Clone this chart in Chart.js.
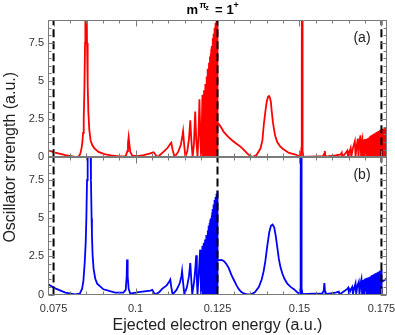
<!DOCTYPE html>
<html lang="en">
<head>
    <meta charset="UTF-8">
    <title>Oscillator strength, m = 1+</title>
    <script src="https://cdn.jsdelivr.net/npm/chart.js"></script>
    <style>
        body {
            margin: 0;
            background-color: #fff;
        }
        canvas {
            display: block;
        }
    </style>
</head>
<body>
    <canvas id="chart" width="395" height="335"></canvas>

    <script>
        // energy (a.u.), oscillator strength (a.u.)
        const panelA = [
            [0.0733, 0.46], [0.0755, 0.30], [0.0786, 0.14], [0.0816, 0.03], [0.0826, 0.03], [0.0831, 0.2],
            [0.0835, 0.55], [0.0838, 1.0], [0.0840, 1.6], [0.0842, 2.6], [0.0844, 4.4], [0.0846, 7.5],
            [0.0847, 10], [0.0849, 14], [0.0851, 10], [0.0852, 7.5], [0.0854, 4.8], [0.0856, 3.0],
            [0.0859, 1.8], [0.0863, 1.1], [0.0868, 0.8], [0.0874, 0.6], [0.0887, 0.35], [0.0905, 0.2],
            [0.0925, 0.12], [0.0950, 0.06], [0.0970, 0.08], [0.0975, 0.4], [0.0977, 0.95], [0.0979, 1.33],
            [0.0981, 0.9], [0.0984, 0.35], [0.0990, 0.1], [0.1005, 0.08], [0.1025, 0.14], [0.1045, 0.25],
            [0.1055, 0.33], [0.1060, 0.2], [0.1065, 0.02], [0.1072, 0.1], [0.1085, 0.35], [0.1098, 0.62],
            [0.1106, 0.88], [0.1109, 0.95], [0.1113, 0.5], [0.1119, 0.02], [0.1130, 0.35], [0.1138, 0.8],
            [0.1143, 1.4], [0.1145, 1.7], [0.1148, 0.9], [0.1152, 0.02], [0.1158, 0.4], [0.1163, 1.2],
            [0.1167, 2.43], [0.1170, 1.2], [0.1174, 0.02], [0.1178, 0.8], [0.1182, 3.0], [0.1185, 1.2],
            [0.1189, 0.02], [0.1192, 1.5], [0.1195, 3.8], [0.1198, 1.0], [0.1200, 0.02], [0.1202, 2.0],
            [0.1204, 4.1], [0.1206, 0.5], [0.1207, 0.02], [0.1209, 4.4], [0.1210, 0.3], [0.1211, 0.02],
            [0.1213, 4.8], [0.1214, 0.3], [0.1215, 0.02], [0.1217, 5.3], [0.1218, 0.3], [0.1219, 0.02],
            [0.1221, 5.8], [0.1222, 0.02], [0.1224, 6.2], [0.1225, 0.02], [0.1227, 6.6], [0.1228, 0.02],
            [0.1229, 6.8], [0.1230, 0.02], [0.1231, 7.1], [0.1232, 0.02], [0.1233, 7.3], [0.1234, 0.02],
            [0.1235, 7.6], [0.12355, 0.02], [0.1236, 7.8], [0.12365, 0.02], [0.1237, 7.9], [0.12375, 0.02],
            [0.1238, 8.0], [0.12385, 0.02], [0.1239, 8.1], [0.12395, 0.02], [0.1240, 8.3], [0.12405, 0.02],
            [0.1241, 8.4], [0.12415, 0.02], [0.1242, 8.5], [0.12425, 0.02], [0.1243, 8.6], [0.12435, 0.02],
            [0.1244, 8.7], [0.12445, 0.02], [0.1245, 8.8], [0.12455, 0.02], [0.1246, 8.9], [0.12465, 0.02],
            [0.1247, 9.1], [0.12475, 0.02], [0.1248, 9.3], [0.12485, 0.02], [0.1249, 9.6], [0.12495, 0.02],
            [0.1250, 10], [0.1251, 2.3], [0.1260, 2.0], [0.1269, 1.66], [0.1282, 1.35], [0.1295, 1.1],
            [0.1308, 0.88], [0.1321, 0.68], [0.1332, 0.45], [0.1341, 0.24], [0.1350, 0.08], [0.1357, 0.02],
            [0.1369, 0.15], [0.1381, 0.57], [0.1387, 1.1], [0.1391, 2.1], [0.1396, 3.0], [0.1400, 3.63],
            [0.1404, 3.95], [0.1407, 4.02], [0.1410, 3.9], [0.1413, 3.6], [0.1415, 3.1], [0.1419, 2.3],
            [0.1422, 1.88], [0.1426, 1.4], [0.1432, 1.0], [0.1440, 0.75], [0.1448, 0.57], [0.1468, 0.28],
            [0.1488, 0.18], [0.1500, 0.07], [0.1504, 0.0], [0.1506, 0.6], [0.1507, 5], [0.1508, 20],
            [0.1509, 5], [0.1510, 0.4], [0.1512, 0.02], [0.1530, 0.04], [0.1555, 0.06], [0.1572, 0.08],
            [0.1575, 0.2], [0.1577, 0.41], [0.1579, 0.15], [0.1581, 0.02], [0.1590, 0.08], [0.1610, 0.12],
            [0.1626, 0.18], [0.1629, 0.3], [0.1631, 0.02], [0.1638, 0.2], [0.1646, 0.43], [0.1648, 0.02],
            [0.1653, 0.4], [0.1656, 0.6], [0.1658, 0.02], [0.1663, 0.6], [0.1669, 1.05], [0.1671, 0.02],
            [0.1675, 0.8], [0.1678, 1.22], [0.1680, 0.02], [0.1683, 1.0], [0.1686, 1.44], [0.1688, 0.02],
            [0.1690, 0.9], [0.1692, 1.15], [0.1694, 0.02], [0.1696, 1.15], [0.1698, 0.02], [0.1700, 1.2],
            [0.1702, 0.02], [0.1704, 1.2], [0.1706, 0.02], [0.1708, 1.25], [0.1710, 0.02], [0.1712, 1.3],
            [0.1714, 0.02], [0.1716, 1.4], [0.1717, 0.02], [0.1719, 1.42], [0.1720, 0.02], [0.1722, 1.47],
            [0.1723, 0.02], [0.1725, 1.5], [0.1726, 0.02], [0.1728, 1.55], [0.1729, 0.02], [0.1731, 1.58],
            [0.1732, 0.02], [0.1734, 1.62], [0.1735, 0.02], [0.1736, 1.65], [0.1737, 0.02], [0.1738, 1.68],
            [0.1739, 0.02], [0.1740, 1.7], [0.1741, 0.02], [0.1742, 1.72], [0.1743, 0.02], [0.1744, 1.75],
            [0.1745, 0.02], [0.1746, 1.78], [0.1747, 0.02], [0.1748, 1.8], [0.1749, 0.02], [0.1750, 1.85],
            [0.1751, 0.02], [0.1752, 1.86], [0.1753, 0.02], [0.1754, 1.87], [0.1755, 0.02], [0.1756, 1.88],
            [0.1757, 0.02], [0.1758, 1.89], [0.1759, 0.02], [0.1760, 1.9], [0.1761, 0.02], [0.1762, 1.91],
            [0.1763, 0.02], [0.1764, 1.92], [0.1765, 0.02], [0.1766, 1.93], [0.1767, 0.02]
        ];

        const panelB = [
            [0.0733, 0.67], [0.0755, 0.40], [0.0786, 0.13], [0.0816, 0.01], [0.0830, 0.05], [0.0837, 0.38],
            [0.0841, 0.9], [0.0845, 2.1], [0.0848, 3.4], [0.0850, 5.0], [0.0852, 7.5], [0.0854, 10.5],
            [0.0858, 15], [0.0862, 10.5], [0.0864, 7.5], [0.0866, 5.0], [0.0867, 3.9], [0.0869, 2.6],
            [0.0872, 1.7], [0.0877, 1.05], [0.0883, 0.71], [0.0902, 0.34], [0.0938, 0.12], [0.0963, 0.12],
            [0.0970, 0.3], [0.0973, 1.2], [0.0974, 2.3], [0.0976, 1.2], [0.0979, 0.37], [0.0984, 0.05],
            [0.1009, 0.16], [0.1045, 0.26], [0.1051, 0.3], [0.1056, 0.12], [0.1059, 0.0], [0.1072, 0.15],
            [0.1081, 0.37], [0.1095, 0.6], [0.1103, 0.85], [0.1106, 0.97], [0.1109, 0.5], [0.1113, 0.0],
            [0.1125, 0.3], [0.1135, 0.75], [0.1140, 1.2], [0.1142, 1.54], [0.1145, 0.8], [0.1149, 0.0],
            [0.1157, 0.5], [0.1163, 1.2], [0.1167, 2.07], [0.1170, 1.0], [0.1173, 0.0], [0.1179, 0.9],
            [0.1183, 1.9], [0.1185, 2.57], [0.1187, 1.0], [0.1189, 0.0], [0.1193, 1.4], [0.1197, 2.94],
            [0.1199, 0.8], [0.1200, 0.0], [0.1202, 1.8], [0.1204, 3.2], [0.1206, 0.02], [0.1208, 3.4],
            [0.1209, 0.3], [0.1210, 0.02], [0.1212, 3.6], [0.1213, 0.3], [0.1214, 0.02], [0.1216, 3.9],
            [0.1217, 0.3], [0.1218, 0.02], [0.1220, 4.2], [0.1221, 0.02], [0.1223, 4.5], [0.1224, 0.02],
            [0.1226, 4.7], [0.1227, 0.02], [0.1228, 4.9], [0.1229, 0.02], [0.1230, 5.0], [0.1231, 0.02],
            [0.1232, 5.2], [0.1233, 0.02], [0.1234, 5.4], [0.12345, 0.02], [0.1235, 5.5], [0.12355, 0.02],
            [0.1236, 5.6], [0.12365, 0.02], [0.1237, 5.7], [0.12375, 0.02], [0.1238, 5.8], [0.12385, 0.02],
            [0.1239, 5.9], [0.12395, 0.02], [0.1240, 6.0], [0.12405, 0.02], [0.1241, 6.1], [0.12415, 0.02],
            [0.1242, 6.2], [0.12425, 0.02], [0.1243, 6.25], [0.12435, 0.02], [0.1244, 6.3], [0.12445, 0.02],
            [0.1245, 6.4], [0.12455, 0.02], [0.1246, 6.5], [0.12465, 0.02], [0.1247, 6.55], [0.12475, 0.02],
            [0.1248, 6.6], [0.12485, 0.02], [0.1249, 6.7], [0.12495, 0.02], [0.1250, 6.8], [0.12505, 0.02],
            [0.1251, 2.24], [0.1262, 2.27], [0.1269, 2.2], [0.1277, 2.0], [0.1284, 1.75], [0.1292, 1.3],
            [0.1300, 0.95], [0.1308, 0.6], [0.1315, 0.35], [0.1322, 0.18], [0.1330, 0.07], [0.1340, 0.01],
            [0.1351, 0.0], [0.1364, 0.15], [0.1376, 0.49], [0.1385, 1.0], [0.1391, 1.55], [0.1396, 2.2],
            [0.1402, 3.2], [0.1408, 4.1], [0.1413, 4.5], [0.1418, 4.58], [0.1423, 4.4], [0.1428, 3.8],
            [0.1433, 3.0], [0.1437, 2.35], [0.1442, 1.8], [0.1448, 1.36], [0.1455, 1.0], [0.1463, 0.71],
            [0.1473, 0.5], [0.1483, 0.35], [0.1493, 0.15], [0.1499, 0.07], [0.1502, 0.02], [0.1503, 0.5],
            [0.1504, 5], [0.1505, 20], [0.1506, 5], [0.1507, 0.4], [0.1509, 0.02], [0.1540, 0.05],
            [0.1570, 0.08], [0.1574, 0.25], [0.1576, 0.75], [0.1578, 0.2], [0.1580, 0.02], [0.1595, 0.08],
            [0.1610, 0.13], [0.1620, 0.19], [0.1622, 0.0], [0.1635, 0.2], [0.1645, 0.35], [0.1649, 0.45],
            [0.1651, 0.02], [0.1657, 0.35], [0.1661, 0.5], [0.1663, 0.02], [0.1668, 0.5], [0.1671, 0.73],
            [0.1673, 0.02], [0.1677, 0.6], [0.1681, 0.84], [0.1683, 0.02], [0.1686, 0.7], [0.1689, 1.0],
            [0.1691, 0.02], [0.1694, 0.95], [0.1696, 0.02], [0.1699, 1.03], [0.1701, 0.02], [0.1703, 1.06],
            [0.1705, 0.02], [0.1707, 1.1], [0.1709, 0.02], [0.1711, 1.13], [0.1713, 0.02], [0.1715, 1.17],
            [0.1717, 0.02], [0.1719, 1.22], [0.1720, 0.02], [0.1722, 1.28], [0.1723, 0.02], [0.1725, 1.3],
            [0.1726, 0.02], [0.1728, 1.34], [0.1729, 0.02], [0.1731, 1.37], [0.1732, 0.02], [0.1734, 1.4],
            [0.1735, 0.02], [0.1736, 1.42], [0.1737, 0.02], [0.1738, 1.45], [0.1739, 0.02], [0.1740, 1.47],
            [0.1741, 0.02], [0.1742, 1.5], [0.1743, 0.02], [0.1744, 1.52], [0.1745, 0.02], [0.1746, 1.55],
            [0.1747, 0.02], [0.1748, 1.58], [0.1749, 0.02], [0.1750, 1.6], [0.17505, 0.02], [0.1751, 0.84],
            [0.1759, 0.93], [0.1767, 1.08]
        ];

        const thresholds = [0.075, 0.125, 0.175];
        const xTicks = [0.075, 0.1, 0.125, 0.15, 0.175];
        const xTickLabels = ['0.075', '0.1', '0.125', '0.15', '0.175'];
        const yTicks = [0, 2.5, 5, 7.5];
        const yTickLabels = ['0', '2.5', '5', '7.5'];
        const panelLabels = ['(a)', '(b)'];
        const panelColors = ['#ff0000', '#0000ff'];

        const xRange = [0.0733, 0.1767];
        const yRange = [0, 9];
        const fontFamily = 'Arial, "Liberation Sans", Helvetica, sans-serif';

        // top panel is yA, bottom panel is yB
        const panelIds = ['yA', 'yB'];

        const toPoints = rows => rows.map(r => ({x: r[0], y: r[1]}));

        const datasets = [];
        panelIds.forEach(id => {
            thresholds.forEach(t => {
                datasets.push({
                    data: [{x: t, y: yRange[0]}, {x: t, y: yRange[1]}],
                    yAxisID: id,
                    borderColor: '#000',
                    borderWidth: 2,
                    borderDash: [8, 4],
                    pointRadius: 0
                });
            });
        });
        datasets.push({
            data: toPoints(panelA),
            yAxisID: 'yA',
            borderColor: panelColors[0],
            borderWidth: 1.8,
            pointRadius: 0
        });
        datasets.push({
            data: toPoints(panelB),
            yAxisID: 'yB',
            borderColor: panelColors[1],
            borderWidth: 1.8,
            pointRadius: 0
        });

        function yScale() {
            return {
                type: 'linear',
                position: 'left',
                stack: 'panels',
                stackWeight: 1,
                min: yRange[0],
                max: yRange[1],
                grid: {display: false, drawTicks: false},
                border: {display: false},
                afterBuildTicks: s => { s.ticks = yTicks.map(v => ({value: v})); },
                afterFit: s => {
                    s.width = 48;
                    s.paddingTop = 0;
                    s.paddingBottom = 0;
                },
                ticks: {
                    padding: 4,
                    color: '#333',
                    font: {family: fontFamily, size: 11},
                    callback: v => yTickLabels[yTicks.indexOf(v)]
                }
            };
        }

        const framePlugin = {
            id: 'frame',
            beforeDatasetDraw(chart, args) {
                const ys = chart.scales[args.meta.yAxisID];
                const a = chart.chartArea;
                const ctx = chart.ctx;
                ctx.save();
                ctx.beginPath();
                ctx.rect(a.left, ys.top, a.right - a.left, ys.bottom - ys.top);
                ctx.clip();
            },
            afterDatasetDraw(chart) {
                chart.ctx.restore();
            },
            afterDraw(chart) {
                const ctx = chart.ctx;
                const a = chart.chartArea;
                const xs = chart.scales.x;
                ctx.save();
                ctx.strokeStyle = '#7a7a7a';
                ctx.lineWidth = 1;

                panelIds.forEach((id, i) => {
                    const ys = chart.scales[id];
                    const L = Math.round(a.left) + 0.5, R = Math.round(a.right) - 0.5;
                    const T = Math.round(ys.top) + 0.5, B = Math.round(ys.bottom) - 0.5;
                    ctx.strokeRect(L, T, R - L, B - T);

                    ctx.beginPath();
                    for (let k = 0; k <= 18; k++) {
                        const v = k * 0.5;
                        const len = yTicks.includes(v) ? 6 : 3;
                        const py = Math.round(ys.getPixelForValue(v)) + 0.5;
                        ctx.moveTo(L, py); ctx.lineTo(L + len, py);
                        ctx.moveTo(R, py); ctx.lineTo(R - len, py);
                    }
                    for (let k = 75; k <= 175; k += 5) {
                        const v = k / 1000;
                        const len = xTicks.includes(v) ? 6 : 3;
                        const px = Math.round(xs.getPixelForValue(v)) + 0.5;
                        ctx.moveTo(px, T); ctx.lineTo(px, T + len);
                        ctx.moveTo(px, B); ctx.lineTo(px, B - len);
                    }
                    ctx.stroke();

                    ctx.fillStyle = '#222';
                    ctx.font = '14px ' + fontFamily;
                    ctx.textAlign = 'center';
                    ctx.textBaseline = 'middle';
                    ctx.fillText(panelLabels[i], 362, ys.top + 18);
                });

                // y axis title spans both panels
                ctx.save();
                ctx.translate(10.5, (a.top + a.bottom) / 2);
                ctx.rotate(-Math.PI / 2);
                ctx.fillStyle = '#222';
                ctx.font = '16px ' + fontFamily;
                ctx.textAlign = 'center';
                ctx.textBaseline = 'middle';
                ctx.fillText('Oscillator strength (a.u.)', 0, 0);
                ctx.restore();

                // title m^{pi_z} = 1^+
                ctx.fillStyle = '#000';
                ctx.textAlign = 'left';
                ctx.textBaseline = 'alphabetic';
                ctx.font = 'bold 13px ' + fontFamily;
                ctx.fillText('m', 186.5, 13.5);
                ctx.font = 'bold 9px ' + fontFamily;
                ctx.fillText('\u03c0', 199.5, 8);
                ctx.font = 'bold 6.5px ' + fontFamily;
                ctx.fillText('z', 205.5, 10);
                ctx.font = 'bold 13px ' + fontFamily;
                ctx.fillText('=', 215, 13.5);
                ctx.fillText('1', 226.5, 13.5);
                ctx.font = 'bold 9px ' + fontFamily;
                ctx.fillText('+', 233.5, 8);
                ctx.restore();
            }
        };

        new Chart(document.getElementById('chart'), {
            type: 'line',
            data: {datasets: datasets},
            options: {
                responsive: false,
                animation: false,
                events: [],
                layout: {padding: {left: 0, right: 8, top: 20, bottom: 0}},
                plugins: {
                    legend: {display: false},
                    tooltip: {enabled: false}
                },
                elements: {line: {tension: 0}},
                scales: {
                    x: {
                        type: 'linear',
                        min: xRange[0],
                        max: xRange[1],
                        grid: {display: false, drawTicks: false},
                        border: {display: false},
                        afterBuildTicks: s => { s.ticks = xTicks.map(v => ({value: v})); },
                        afterFit: s => {
                            s.height = 40.5;
                            s.paddingLeft = 0;
                            s.paddingRight = 0;
                        },
                        ticks: {
                            padding: 8,
                            maxRotation: 0,
                            autoSkip: false,
                            color: '#333',
                            font: {family: fontFamily, size: 11},
                            callback: v => xTickLabels[xTicks.indexOf(v)]
                        },
                        title: {
                            display: true,
                            text: 'Ejected electron energy (a.u.)',
                            color: '#222',
                            font: {family: fontFamily, size: 16},
                            padding: {top: 1, bottom: 0}
                        }
                    },
                    yB: yScale(),
                    yA: yScale()
                }
            },
            plugins: [framePlugin]
        });
    </script>
</body>
</html>
